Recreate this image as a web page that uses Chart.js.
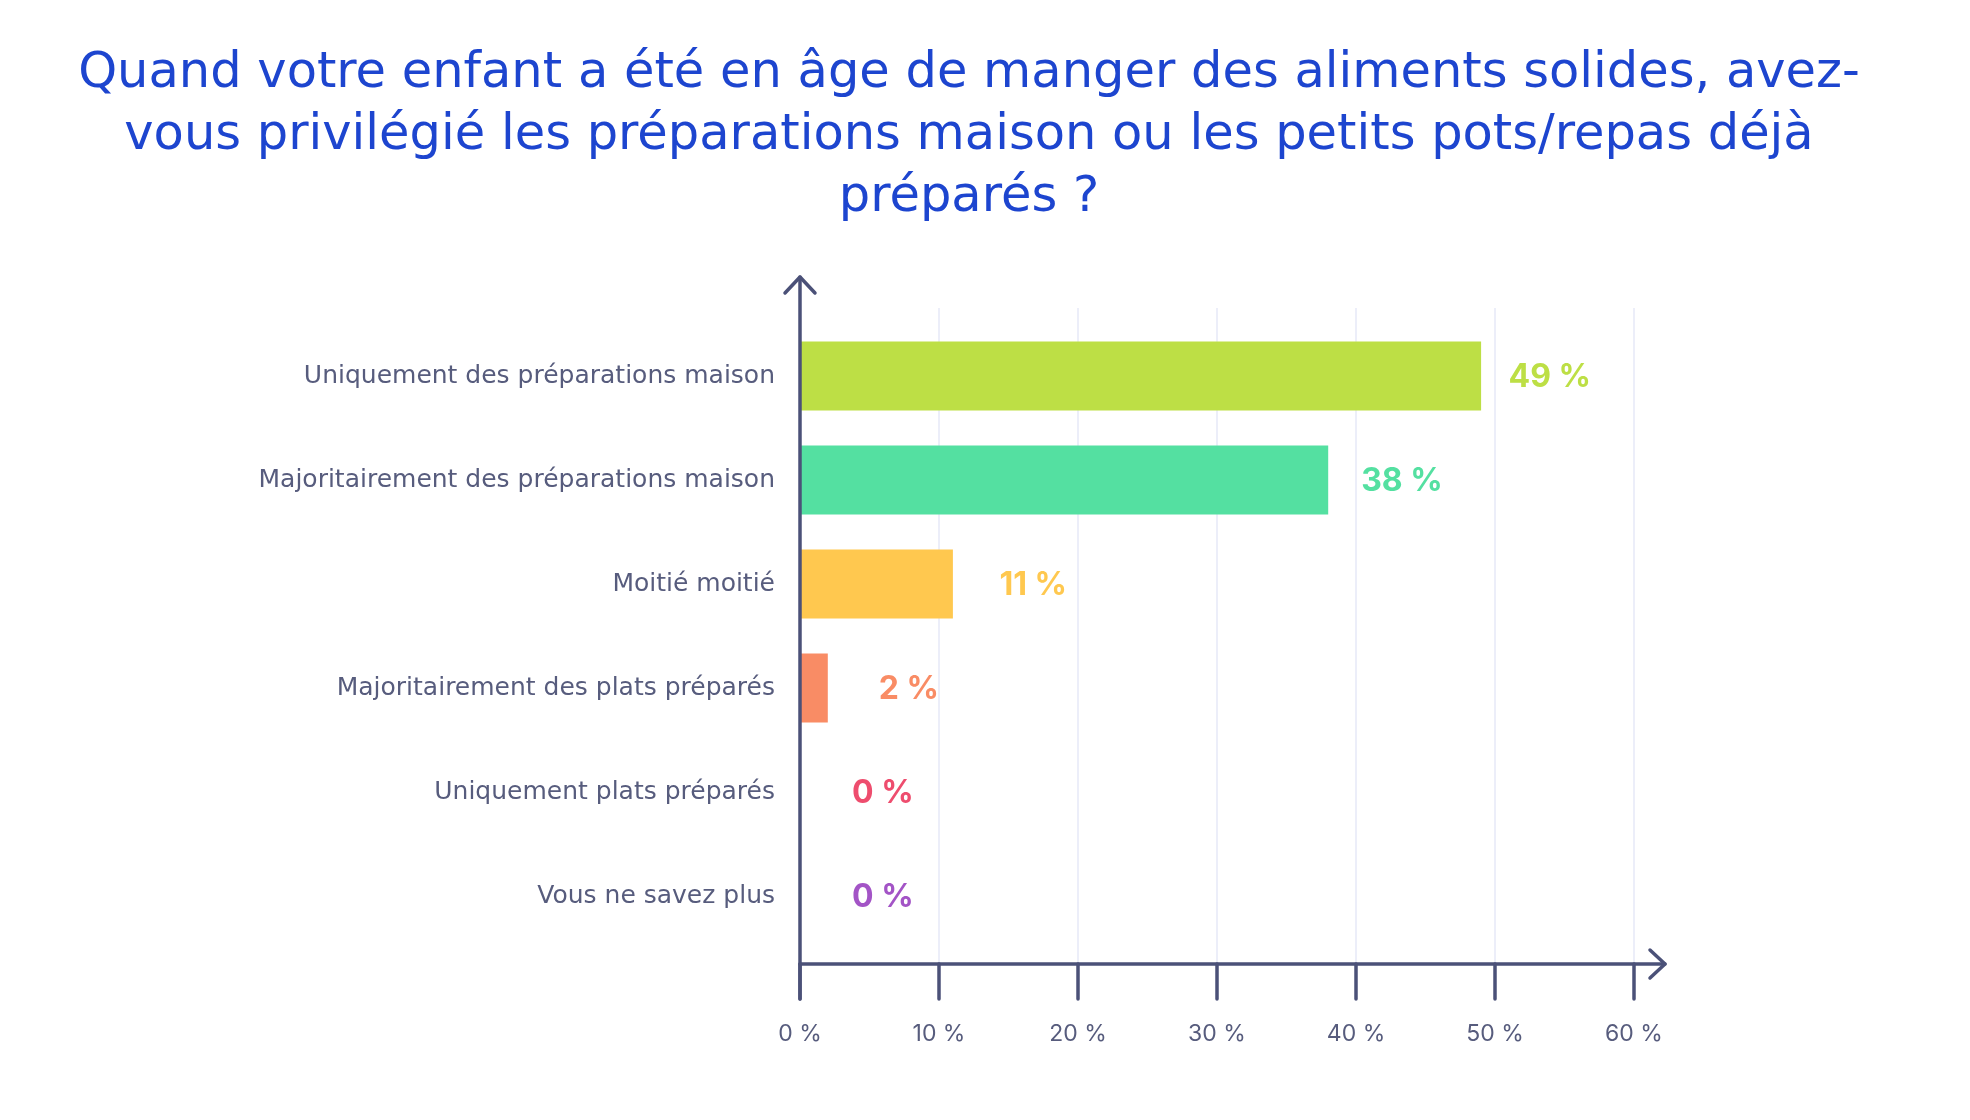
<!DOCTYPE html>
<html>
<head>
<meta charset="utf-8">
<script src="https://cdn.jsdelivr.net/npm/chart.js@4/dist/chart.umd.min.js"></script>
<style>
  html, body { margin: 0; padding: 0; background: #fff; }
  #wrap { width: 1970px; height: 1120px; }
</style>
</head>
<body>
<div id="wrap"><canvas id="myChart" width="1970" height="1120"></canvas></div>
<script>
// donnees
const titre = [
  "Quand votre enfant a été en âge de manger des aliments solides, avez-",
  "vous privilégié les préparations maison ou les petits pots/repas déjà",
  "préparés ?"
];
const categories = [
  "Uniquement des préparations maison",
  "Majoritairement des préparations maison",
  "Moitié moitié",
  "Majoritairement des plats préparés",
  "Uniquement plats préparés",
  "Vous ne savez plus"
];
const valeurs = [49, 38, 11, 2, 0, 0];
const couleurs = ["#bddf45", "#54e0a1", "#ffc84f", "#f98c65", "#ee4d6e", "#a354c6"];
const xTicks = [0, 10, 20, 30, 40, 50, 60];

const axeCouleur = "#4b5178";
const texteCouleur = "#575c7d";

// axes avec fleches, grille, graduations et etiquettes de valeur
const axesPlugin = {
  id: "axesFleches",
  beforeDatasetsDraw(chart) {
    const ctx = chart.ctx;
    const area = chart.chartArea;
    const x = chart.scales.x;
    ctx.save();
    ctx.strokeStyle = "#eceef9";
    ctx.lineWidth = 2;
    xTicks.forEach((t) => {
      if (t === 0) return;
      const px = x.getPixelForValue(t);
      ctx.beginPath();
      ctx.moveTo(px, area.top - 16);
      ctx.lineTo(px, area.bottom + 16);
      ctx.stroke();
    });
    ctx.restore();
  },
  afterDatasetsDraw(chart) {
    const ctx = chart.ctx;
    const area = chart.chartArea;
    const x = chart.scales.x;
    const x0 = x.getPixelForValue(0);
    const yAxe = area.bottom + 16;
    const xFin = x.getPixelForValue(60) + 31;
    const yHaut = area.top - 47;

    ctx.save();
    ctx.strokeStyle = axeCouleur;
    ctx.lineWidth = 3.5;
    ctx.lineCap = "round";
    ctx.lineJoin = "round";

    // axe vertical
    ctx.beginPath();
    ctx.moveTo(x0, yAxe + 35);
    ctx.lineTo(x0, yHaut);
    ctx.stroke();
    ctx.beginPath();
    ctx.moveTo(x0 - 15, yHaut + 16);
    ctx.lineTo(x0, yHaut);
    ctx.lineTo(x0 + 15, yHaut + 16);
    ctx.stroke();

    // axe horizontal
    ctx.beginPath();
    ctx.moveTo(x0, yAxe);
    ctx.lineTo(xFin, yAxe);
    ctx.stroke();
    ctx.beginPath();
    ctx.moveTo(xFin - 15, yAxe - 14);
    ctx.lineTo(xFin, yAxe);
    ctx.lineTo(xFin - 15, yAxe + 14);
    ctx.stroke();

    // graduations
    xTicks.forEach((t) => {
      const px = x.getPixelForValue(t);
      ctx.beginPath();
      ctx.moveTo(px, yAxe);
      ctx.lineTo(px, yAxe + 35);
      ctx.stroke();
    });

    // etiquettes de valeur
    const meta = chart.getDatasetMeta(0);
    ctx.font = "bold 32px Inter, 'Noto Sans', sans-serif";
    ctx.textBaseline = "middle";
    ctx.textAlign = "left";
    meta.data.forEach((bar, i) => {
      const v = valeurs[i];
      ctx.fillStyle = couleurs[i];
      ctx.fillText(v + " %", bar.x + 52 - v * 0.5, bar.y + 1);
    });
    ctx.restore();
  }
};

let grafico = new Chart("myChart", {
  type: "bar",
  data: {
    labels: categories,
    datasets: [{
      data: valeurs,
      backgroundColor: couleurs,
      borderWidth: 0,
      categoryPercentage: 1,
      barPercentage: 0.665
    }]
  },
  options: {
    indexAxis: "y",
    responsive: false,
    animation: false,
    layout: { padding: { top: 43, right: 32, bottom: 52, left: 0 } },
    plugins: {
      legend: { display: false },
      tooltip: { enabled: false },
      title: {
        display: true,
        text: titre,
        color: "#1d45cf",
        font: { family: "'DejaVu Sans', sans-serif", size: 49.5, weight: "normal", lineHeight: "62px" },
        padding: { top: 0, bottom: 95 }
      }
    },
    scales: {
      x: {
        type: "linear",
        min: 0,
        max: 60,
        grid: { display: false, drawTicks: false },
        border: { display: false },
        ticks: {
          stepSize: 10,
          padding: 72,
          color: texteCouleur,
          font: { family: "Inter, 'Noto Sans', sans-serif", size: 23 },
          callback: (v) => v + " %"
        },
        afterFit: (s) => { s.height = 120; }
      },
      y: {
        grid: { display: false, drawTicks: false },
        border: { display: false },
        ticks: {
          padding: 25,
          color: texteCouleur,
          font: { family: "'DejaVu Sans', sans-serif", size: 25 }
        },
        afterFit: (s) => { s.width = 800; }
      },
      marge: {
        type: "linear",
        axis: "y",
        position: "right",
        display: true,
        grid: { display: false, drawTicks: false },
        border: { display: false },
        ticks: { display: false },
        afterFit: (s) => { s.width = 304; }
      }
    }
  },
  plugins: [axesPlugin]
});
</script>
</body>
</html>
